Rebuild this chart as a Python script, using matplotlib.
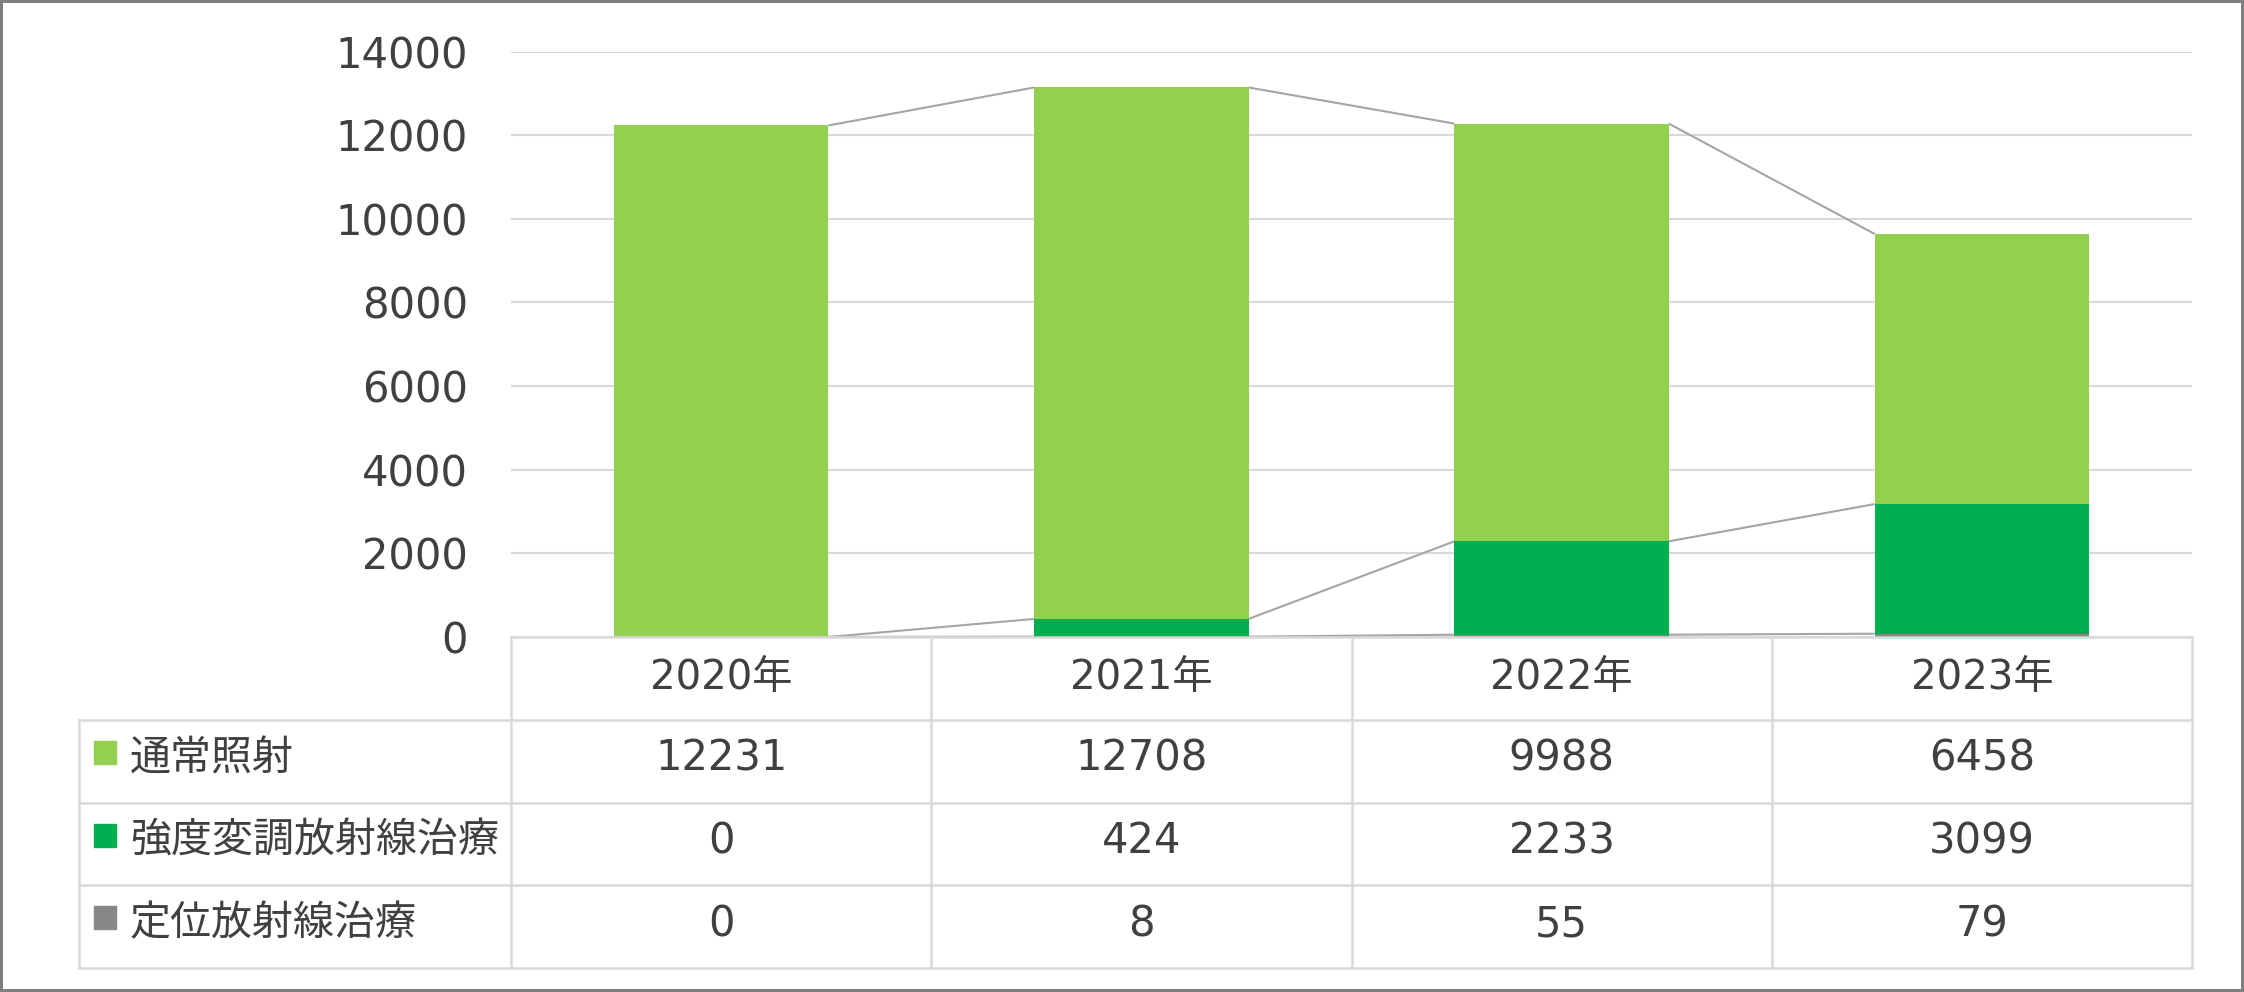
import matplotlib
matplotlib.use("Agg")
import matplotlib.pyplot as plt
from matplotlib.patches import Rectangle
import numpy as np

plt.rcParams['font.family'] = ['Noto Sans CJK JP', 'DejaVu Sans']
NUM_FONT = ['DejaVu Sans', 'Noto Sans CJK JP']

years = ["2020年", "2021年", "2022年", "2023年"]
series_names = ["通常照射", "強度変調放射線治療", "定位放射線治療"]
normal = [12231, 12708, 9988, 6458]
imrt = [0, 424, 2233, 3099]
stereo = [0, 8, 55, 79]
colors = {"通常照射": "#92D050", "強度変調放射線治療": "#00B050", "定位放射線治療": "#878787"}
yticks = [0, 2000, 4000, 6000, 8000, 10000, 12000, 14000]

W, H = 2244, 992
fig = plt.figure(figsize=(W / 100, H / 100), dpi=100)

# layout in pixels
ax_l, ax_r = 511, 2192
ax_top, ax_bot = 51.5, 637
tab_bot = 968
lab_left = 79
txt_col = "#404040"

ax = fig.add_axes([ax_l / W, (H - ax_bot) / H, (ax_r - ax_l) / W, (ax_bot - ax_top) / H])
x = np.arange(len(years))
bw = 0.51
stack_order = [("定位放射線治療", stereo), ("強度変調放射線治療", imrt), ("通常照射", normal)]
bottom = np.zeros(len(years))
tops = []
for name, vals in stack_order:
    vals = np.array(vals, dtype=float)
    ax.bar(x, vals, bw, bottom=bottom, color=colors[name], edgecolor='none', zorder=3)
    bottom = bottom + vals
    tops.append(bottom.copy())

# series lines
for top in tops:
    for i in range(len(years) - 1):
        ax.plot([x[i] + bw / 2, x[i + 1] - bw / 2], [top[i], top[i + 1]],
                color="#A5A5A5", lw=1.5, zorder=2, solid_capstyle='butt')

ax.set_xlim(-0.5, len(years) - 0.5)
ax.set_ylim(0, 14000)
ax.set_yticks(yticks)
ax.set_yticklabels([str(v) for v in yticks], family=NUM_FONT)
ax.set_xticks([])
ax.tick_params(axis='y', length=0, pad=31, labelsize=30, labelcolor=txt_col)
ax.yaxis.grid(True, color="#D9D9D9", lw=1.5, zorder=0)
ax.set_axisbelow(True)
for s in ax.spines.values():
    s.set_visible(False)

# table
tab = fig.add_axes([ax_l / W, (H - tab_bot) / H, (ax_r - ax_l) / W, (tab_bot - ax_bot) / H])
tab.set_xlim(-0.5, len(years) - 0.5)
tab.set_ylim(4, 0)
tab.axis('off')
col_px = (ax_r - ax_l) / len(years)
row_px = (tab_bot - ax_bot) / 4
xl = -0.5 - (ax_l - lab_left) / col_px
lc = "#D9D9D9"
lw = 1.8
tab.plot([-0.5, 3.5], [0, 0], color=lc, lw=lw, clip_on=False, zorder=5)
for r in range(1, 5):
    tab.plot([xl, 3.5], [r, r], color=lc, lw=lw, clip_on=False)
for c in np.arange(-0.5, 4, 1.0):
    tab.plot([c, c], [0, 4], color=lc, lw=lw, clip_on=False)
tab.plot([xl, xl], [1, 4], color=lc, lw=lw, clip_on=False)

for i, yname in enumerate(years):
    tab.text(i, 0.5, yname, ha='center', va='center', fontsize=29, color=txt_col, family=NUM_FONT)

rows = [("通常照射", normal), ("強度変調放射線治療", imrt), ("定位放射線治療", stereo)]
sq_x0 = -0.5 - (ax_l - 94) / col_px
sq_w = 22 / col_px
sq_h = 23 / row_px
txt_x = -0.5 - (ax_l - 130) / col_px
for r, (name, vals) in enumerate(rows, start=1):
    yc = r + 0.5
    tab.add_patch(Rectangle((sq_x0, yc - 0.5 + (740 - 719) / row_px), sq_w, sq_h,
                            color=colors[name], clip_on=False))
    tab.text(txt_x, yc - 0.03, name, ha='left', va='center', fontsize=29.5, color=txt_col, clip_on=False)
    for i, v in enumerate(vals):
        tab.text(i, yc - 0.03, str(v), ha='center', va='center', fontsize=30, color=txt_col,
                 family=NUM_FONT)

fig.patches.append(Rectangle((0, 0), 1, 1, transform=fig.transFigure, fill=False,
                             ec="#7F7F7F", lw=4.3))

fig.savefig("out.png", dpi=100)
